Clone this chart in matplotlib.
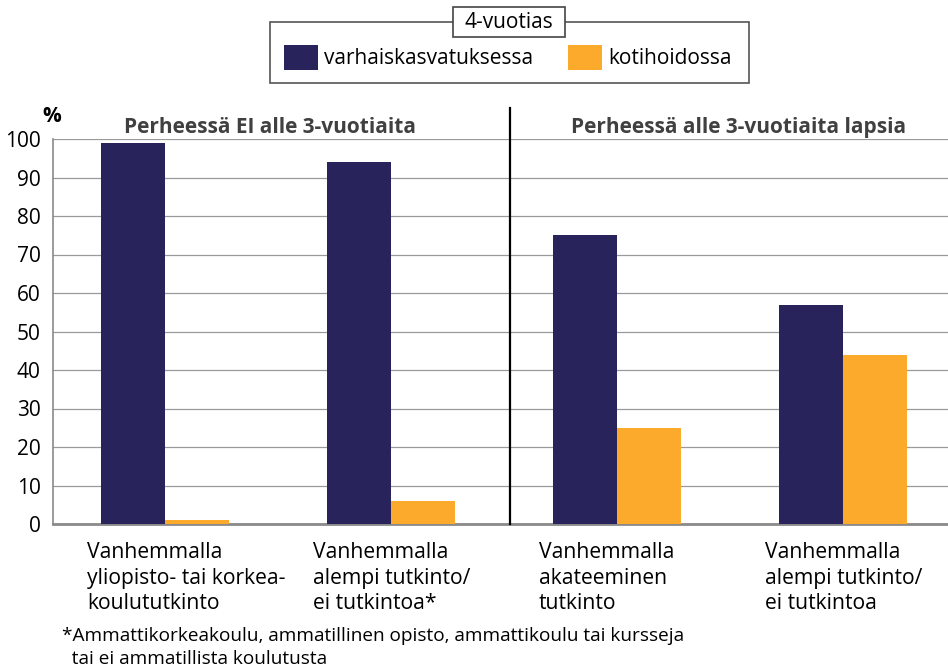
import matplotlib
matplotlib.use("Agg")
import matplotlib.pyplot as plt
from matplotlib.patches import Rectangle
import numpy as np

plt.rcParams['font.family'] = ['Open Sans', 'DejaVu Sans']

categories = ["Vanhemmalla\nyliopisto- tai korkea-\nkoulututkinto",
              "Vanhemmalla\nalempi tutkinto/\nei tutkintoa*",
              "Vanhemmalla\nakateeminen\ntutkinto",
              "Vanhemmalla\nalempi tutkinto/\nei tutkintoa"]
varhais = [99, 94, 75, 57]
koti = [1, 6, 25, 44]
series_names = ["varhaiskasvatuksessa", "kotihoidossa"]
legend_title = "4-vuotias"
group_titles = ["Perheessä EI alle 3-vuotiaita", "Perheessä alle 3-vuotiaita lapsia"]
yticks = [0, 10, 20, 30, 40, 50, 60, 70, 80, 90, 100]
footnote = "*Ammattikorkeakoulu, ammatillinen opisto, ammattikoulu tai kursseja\n  tai ei ammatillista koulutusta"

navy = "#29235c"
orange = "#fbaa2b"

W, H = 948, 670
fig = plt.figure(figsize=(W / 100, H / 100), dpi=100)
ax = fig.add_axes([53 / W, (H - 524) / H, (W - 53) / W, (524 - 139) / H])

x = np.arange(len(categories))
bw = 0.285
ax.bar(x - bw / 2, varhais, width=bw, color=navy, zorder=3)
ax.bar(x + bw / 2, koti, width=bw, color=orange, zorder=3)

ax.set_xlim(-0.496, 3.465)
ax.set_ylim(0, 100)
ax.set_yticks(yticks)
ax.set_yticklabels([str(v) for v in yticks], fontsize=15)
ax.yaxis.grid(True, color="#9a9a9a", linewidth=0.9, zorder=0)
ax.set_axisbelow(True)
ax.tick_params(axis='y', length=0, pad=9)
ax.set_xticks([])
for s in ["top", "right"]:
    ax.spines[s].set_visible(False)
ax.spines["left"].set_color("#8a8a8a")
ax.spines["left"].set_linewidth(1.2)
ax.spines["bottom"].set_color("#8a8a8a")
ax.spines["bottom"].set_linewidth(2.0)

# divider
ax.plot([1.527, 1.527], [0, 108], color="black", linewidth=1.6, clip_on=False, zorder=4)

# group titles
ax.text(0.465, 101.6, group_titles[0], ha="center", va="baseline", fontsize=15,
        fontweight="bold", color="#404040")
ax.text(2.54, 101.6, group_titles[1], ha="center", va="baseline", fontsize=15,
        fontweight="bold", color="#404040")

# % label
fig.text(52 / W, 1 - 117 / H, "%", ha="center", va="center", fontsize=15, fontweight="bold")

# category labels
for i, c in enumerate(categories):
    ax.text(i - bw - 0.06, -4.6, c, ha="left", va="top", fontsize=15.2, linespacing=1.3)

# footnote
fig.text(62 / W, 1 - 627 / H, footnote, ha="left", va="top", fontsize=13.7, linespacing=1.38)

# legend box
fig.patches.append(Rectangle((270 / W, 1 - 83 / H), (749 - 270) / W, (83 - 22) / H,
                             transform=fig.transFigure, fill=False, edgecolor="#555555",
                             linewidth=1.2))
fig.patches.append(Rectangle((453 / W, 1 - 37 / H), (565 - 453) / W, (37 - 7) / H,
                             transform=fig.transFigure, facecolor="white", edgecolor="#444444",
                             linewidth=1.2, zorder=5))
fig.text(509 / W, 1 - 22 / H, legend_title, ha="center", va="center", fontsize=15, zorder=6)
fig.patches.append(Rectangle((284 / W, 1 - 70 / H), (318 - 284) / W, (70 - 45) / H,
                             transform=fig.transFigure, facecolor=navy, edgecolor="none"))
fig.text(324 / W, 1 - 58 / H, series_names[0], ha="left", va="center", fontsize=15)
fig.patches.append(Rectangle((568 / W, 1 - 70 / H), (602 - 568) / W, (70 - 45) / H,
                             transform=fig.transFigure, facecolor=orange, edgecolor="none"))
fig.text(608 / W, 1 - 58 / H, series_names[1], ha="left", va="center", fontsize=15)

fig.savefig("out.png", dpi=100)
